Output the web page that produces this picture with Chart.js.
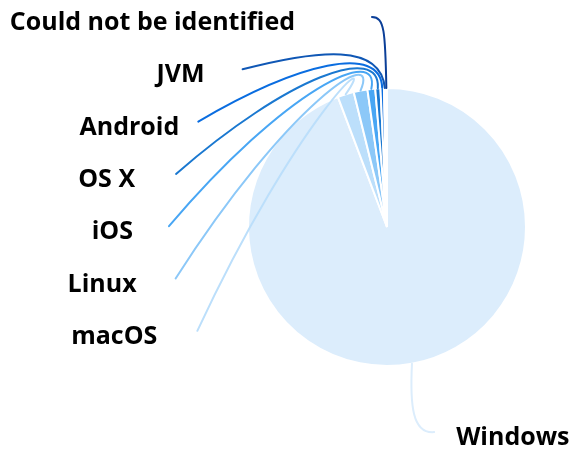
<!DOCTYPE html>
<html>
<head>
<meta charset="utf-8">
<script src="https://cdn.jsdelivr.net/npm/chart.js@4/dist/chart.umd.min.js"></script>
<style>
  body{margin:0;background:#fff;}
</style>
</head>
<body>
<canvas id="mycanvas" width="572" height="449"></canvas>
<script>
// share of visits by operating system (%)
var systems=['Windows','macOS','Linux','iOS','OS X','Android','JVM','Could not be identified'];
var shares=[94.25,1.9,1.6,0.9,0.6,0.4,0.2,0.15];
var colours=['#dcedfc','#bcdffb','#8cc8f8','#48a6f4','#1a78d0','#0a6de0','#0f57b5','#0b3f98'];

// how far the text sits from the end of its line
var textGap={'Windows':22,'macOS':40,'Linux':39,'iOS':36,'OS X':41,'Android':19,'JVM':38,'Could not be identified':77};

var leaderLabels={
  id:'leaderLabels',
  afterDatasetsDraw:function(chart){
    var ctx=chart.ctx;
    var arcs=chart.getDatasetMeta(0).data;
    var items=[];
    arcs.forEach(function(arc,i){
      var p=arc.getProps(['x','y','startAngle','endAngle','outerRadius'],true);
      var mid=(p.startAngle+p.endAngle)/2;
      items.push({i:i,mid:mid,cx:p.x,cy:p.y,r:p.outerRadius,
        x0:p.x+Math.cos(mid)*p.outerRadius,y0:p.y+Math.sin(mid)*p.outerRadius});
    });
    var cx=items[0].cx, cy=items[0].cy, r=items[0].r;
    var a=r+79, b=r+71.5, spacing=52.3;

    var left=items.filter(function(o){return Math.cos(o.mid)<0;});
    var right=items.filter(function(o){return Math.cos(o.mid)>=0;});
    left.sort(function(p,q){return q.mid-p.mid;});
    left.forEach(function(o,k){
      o.y3=cy-b+0.5+k*spacing;
      var dy=(o.y3-cy)/b;
      o.x3=cx-a*Math.sqrt(Math.max(0,1-dy*dy));
      o.side=-1;
    });
    right.forEach(function(o){
      o.x3=cx+a*Math.cos(o.mid)+8;
      o.y3=cy+b*Math.sin(o.mid)-2;
      o.side=1;
    });

    ctx.save();
    ctx.lineWidth=2;
    ctx.lineCap='round';
    items.forEach(function(o){
      var c1x,c1y,c2x,c2y;
      if(o.y0<cy){
        c1x=cx-6; c1y=cy-r-45;
        if(o.y3<c1y){
          c1x=o.x0-1; c1y=o.y3+14;
          c2x=o.x0-2; c2y=o.y3;
        }else{
          c2x=o.x3+(c1x-o.x3)*0.55; c2y=c1y+(o.y3-c1y)*0.25;
        }
      }else{
        c1x=o.x0-2; c1y=o.y0+40;
        c2x=o.x0; c2y=o.y3+2;
      }
      ctx.strokeStyle=colours[o.i];
      ctx.beginPath();
      ctx.moveTo(o.x0,o.y0);
      ctx.bezierCurveTo(c1x,c1y,c2x,c2y,o.x3,o.y3);
      ctx.stroke();
    });

    ctx.fillStyle='#000';
    ctx.font='bold 25px "Open Sans"';
    ctx.textBaseline='middle';
    items.forEach(function(o){
      var name=systems[o.i];
      if(o.side<0){
        ctx.textAlign='right';
        ctx.fillText(name,o.x3-textGap[name],o.y3+6);
      }else{
        ctx.textAlign='left';
        ctx.fillText(name,o.x3+textGap[name],o.y3+6);
      }
    });
    ctx.restore();
  }
};

var ctx=document.getElementById('mycanvas');
var pieChart=new Chart(ctx,{
  type:'pie',
  data:{
    labels:systems,
    datasets:[{
      data:shares,
      backgroundColor:colours,
      borderColor:'#fff',
      borderWidth:2
    }]
  },
  options:{
    responsive:false,
    animation:false,
    layout:{padding:{left:247,right:45,top:87,bottom:82}},
    plugins:{legend:{display:false},tooltip:{enabled:false}}
  },
  plugins:[leaderLabels]
});
</script>
</body>
</html>
